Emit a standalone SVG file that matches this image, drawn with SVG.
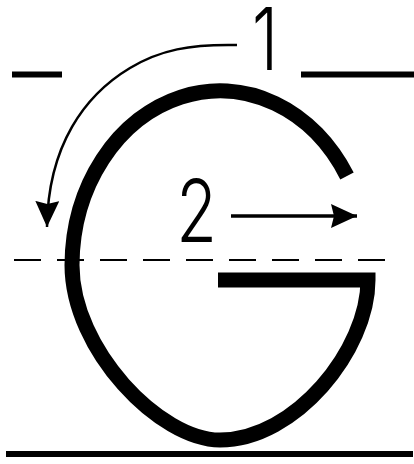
<svg xmlns="http://www.w3.org/2000/svg" width="414" height="464" viewBox="0 0 414 464">
  <style>
    .guide { stroke: #000; stroke-width: 6; fill: none; }
    .dash { stroke: #000; stroke-width: 2; fill: none; stroke-dasharray: 27 16; }
    .letter { stroke: #000; stroke-width: 15; fill: none; stroke-linejoin: miter; stroke-linecap: butt; }
    .arrow { stroke: #000; fill: none; stroke-linecap: butt; }
    .num { font-family: "Inter", "Liberation Sans", sans-serif; font-weight: 300; font-size: 86px; fill: #000; }
  </style>
  <defs>
    <marker id="ah" markerUnits="userSpaceOnUse" markerWidth="26" markerHeight="24" viewBox="0 0 26 24" refX="26" refY="12" orient="auto">
      <path d="M0,0 L26,12 L0,24 L3,12 z" fill="#000"/>
    </marker>
  </defs>
  <rect width="414" height="464" fill="#fff"/>

  <g id="guides">
    <line class="guide" x1="12" y1="74.5" x2="62" y2="74.5"/>
    <line class="guide" x1="301" y1="74.5" x2="414" y2="74.5"/>
    <line class="dash" x1="14" y1="260" x2="397" y2="260"/>
    <line class="guide" x1="6" y1="454" x2="413" y2="454"/>
  </g>

  <g id="letter-G">
    <path class="letter" d="M347,176 A148,175 0 0 0 72,265 C72,350 160,440 220,440 C295,440 368,350 368,280 L218,280"/>
  </g>

  <g id="label-1">
    <text class="num" text-anchor="middle" transform="translate(265,70) scale(0.77,1)">1</text>
  </g>
  <g id="label-2">
    <text class="num" text-anchor="middle" transform="translate(196.5,242) scale(0.77,1)">2</text>
  </g>

  <g id="connectors">
    <path class="arrow" stroke-width="2.5" marker-end="url(#ah)" d="M237,45 C190,44 160,50 130,68 C85,95 48,145 47,227"/>
    <path class="arrow" stroke-width="3.5" marker-end="url(#ah)" d="M231,216 L357,216"/>
  </g>
</svg>
